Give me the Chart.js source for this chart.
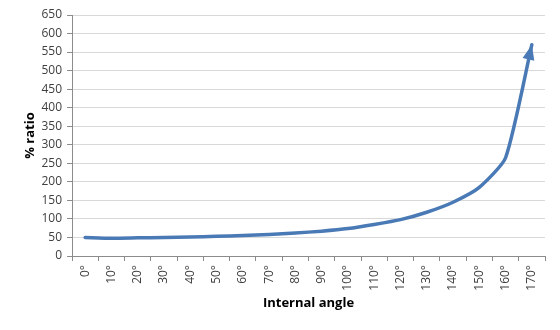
<!DOCTYPE html>
<html>
<head>
<meta charset="utf-8">
<script src="https://cdn.jsdelivr.net/npm/chart.js@4.4.1/dist/chart.umd.min.js"></script>
<style>
  html, body { margin: 0; padding: 0; background: #ffffff; }
  #wrap { width: 560px; height: 330px; position: relative; }
</style>
</head>
<body>
<div id="wrap"><canvas id="c" width="560" height="330"></canvas></div>
<script>
// Internal angle categories (degrees)
const angles = ['0°','10°','20°','30°','40°','50°','60°','70°','80°','90°','100°','110°','120°','130°','140°','150°','160°','170°'];
// Percentage ratio at each angle
const ratio = [50, 48, 49, 50, 51, 53, 55, 58, 62, 67, 74, 85, 98, 118, 145, 185, 265, 570];
// Y axis range and step
const yMin = 0, yMax = 650, yStep = 50;

const lineColor = '#4a7ab6';
const fontFamily = '"Open Sans", "Liberation Sans", sans-serif';

// Draws an arrow head at the last point of the line, aligned with the curve's end tangent
const arrowHead = {
  id: 'arrowHead',
  afterDatasetsDraw(chart) {
    const meta = chart.getDatasetMeta(0);
    const pts = meta.data;
    if (pts.length < 2) return;
    const p = pts[pts.length - 1];
    let fx = p.cp1x, fy = p.cp1y;
    if (fx === undefined || (Math.abs(fx - p.x) < 0.01 && Math.abs(fy - p.y) < 0.01)) {
      fx = pts[pts.length - 2].x; fy = pts[pts.length - 2].y;
    }
    const ang = Math.atan2(p.y - fy, p.x - fx);
    const len = 15, half = 6;
    const ctx = chart.ctx;
    ctx.save();
    ctx.fillStyle = lineColor;
    ctx.translate(p.x, p.y);
    ctx.rotate(ang);
    ctx.beginPath();
    ctx.moveTo(0, 0);
    ctx.lineTo(-len, -half);
    ctx.lineTo(-len, half);
    ctx.closePath();
    ctx.fill();
    ctx.restore();
  }
};

new Chart(document.getElementById('c'), {
  type: 'line',
  data: {
    labels: angles,
    datasets: [{
      data: ratio,
      borderColor: lineColor,
      borderWidth: 3.5,
      pointRadius: 0,
      pointHoverRadius: 0,
      fill: false,
      tension: 0.2,
      borderCapStyle: 'round'
    }]
  },
  options: {
    responsive: false,
    animation: false,
    devicePixelRatio: 1,
    layout: { padding: { left: 0, right: 15, top: 15, bottom: 0 } },
    plugins: {
      legend: { display: false },
      tooltip: { enabled: false }
    },
    scales: {
      x: {
        type: 'category',
        offset: true,
        grid: {
          offset: true,
          drawOnChartArea: false,
          drawTicks: true,
          tickLength: 5,
          tickColor: '#8c8c8c'
        },
        border: { display: true, color: '#8c8c8c', width: 1 },
        ticks: {
          minRotation: 90,
          maxRotation: 90,
          autoSkip: false,
          padding: 4,
          color: '#404040',
          font: { family: fontFamily, size: 12 }
        },
        title: {
          display: true,
          text: 'Internal angle',
          color: '#000000',
          font: { family: fontFamily, size: 13, weight: 'bold' },
          padding: { top: 0, bottom: 19 }
        },
        afterFit(scale) { scale.height = 74; }
      },
      y: {
        min: yMin,
        max: yMax,
        ticks: {
          stepSize: yStep,
          padding: 5,
          color: '#404040',
          font: { family: fontFamily, size: 12 }
        },
        grid: {
          color: '#d9d9d9',
          lineWidth: 1,
          drawTicks: true,
          tickLength: 5,
          tickColor: '#8c8c8c'
        },
        border: { display: true, color: '#8c8c8c', width: 1 },
        title: {
          display: true,
          text: '% ratio',
          color: '#000000',
          font: { family: fontFamily, size: 13, weight: 'bold' },
          padding: { top: 22, bottom: 0 }
        },
        afterFit(scale) { scale.width = 72; }
      }
    }
  },
  plugins: [arrowHead]
});
</script>
</body>
</html>
